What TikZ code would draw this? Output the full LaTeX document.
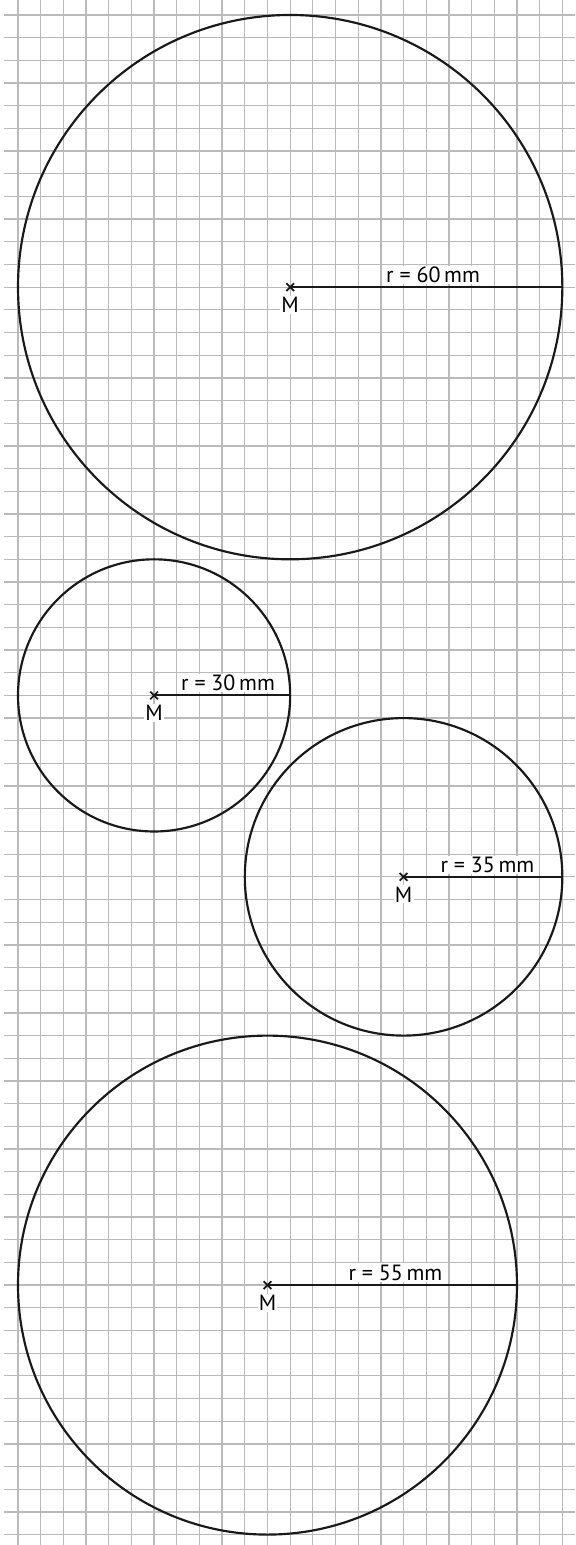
\documentclass[tikz,border=0pt]{standalone}
\usepackage{fontspec}
\setmainfont{PT Sans}
\usetikzlibrary{calc}
\begin{document}
\begin{tikzpicture}[x=0.5cm,y=0.5cm,
  gridline/.style={draw=black!27,line width=0.8pt},
  circ/.style={draw=black!90,line width=1.35pt},
  radline/.style={draw=black!90,line width=1.35pt},
  crossmark/.style={draw=black!90,line width=1.1pt},
  rlabel/.style={anchor=base,fill=white,inner sep=0.8pt,font=\fontsize{13.8}{15}\selectfont},
  mlabel/.style={anchor=north,fill=white,inner sep=0.8pt,font=\fontsize{13.8}{15}\selectfont}]
\fill[white] (-0.794,0.661) rectangle (24.56,-67.46);
\useasboundingbox (-0.794,0.661) rectangle (24.56,-67.46);
% grid
\foreach \k in {0,...,24} \draw[gridline] (\k,0.661) -- (\k,-67.46);
\foreach \j in {0,...,67} \draw[gridline] (-0.617,-\j) -- (24.56,-\j);
% centres
\coordinate (c1) at (12,-12);
\coordinate (c2) at (6,-30);
\coordinate (c3) at (17,-38);
\coordinate (c4) at (11,-56);
\coordinate (e1) at (24,-12);
\coordinate (e2) at (12,-30);
\coordinate (e3) at (24,-38);
\coordinate (e4) at (22,-56);
% circles
\draw[circ] (c1) circle[radius=12];
\draw[circ] (c2) circle[radius=6];
\draw[circ] (c3) circle[radius=7];
\draw[circ] (c4) circle[radius=11];
% radii
\foreach \i in {1,2,3,4} {
  \draw[radline] (c\i) -- (e\i);
  \draw[crossmark] ($(c\i)+(-0.17,-0.17)$) -- ($(c\i)+(0.17,0.17)$);
  \draw[crossmark] ($(c\i)+(-0.17,0.17)$) -- ($(c\i)+(0.17,-0.17)$);
  \node[mlabel] (m\i) at ($(c\i)+(0,-0.36)$) {M};
}
\node[rlabel] (l1) at (18.3,-11.8) {r = 60\,mm};
\node[rlabel] (l2) at (9.26,-29.8) {r = 30\,mm};
\node[rlabel] (l3) at (20.7,-37.8) {r = 35\,mm};
\node[rlabel] (l4) at (16.64,-55.78) {r = 55\,mm};
\end{tikzpicture}
\end{document}
